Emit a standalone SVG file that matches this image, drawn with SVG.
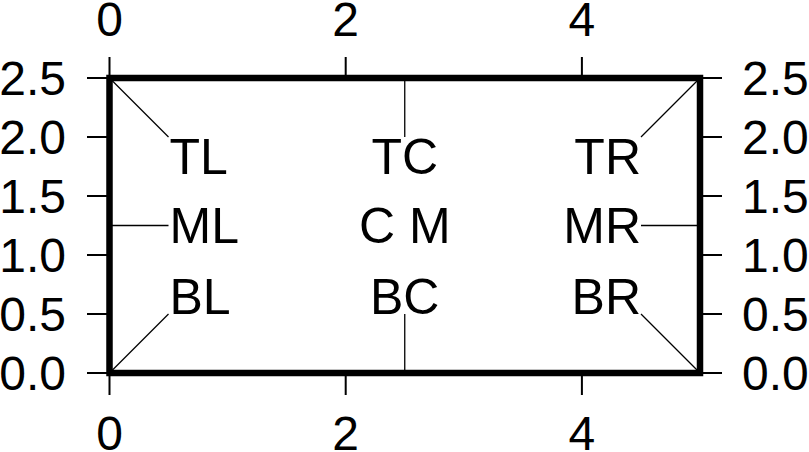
<svg xmlns="http://www.w3.org/2000/svg" width="809" height="452" viewBox="0 0 809 452">
<style>
text{font-family:"Liberation Sans",Arial,Helvetica,sans-serif;fill:#000}
.ann{font-size:48px}
.lab{font-size:50px}
.tick{stroke:#000;stroke-width:2;fill:none}
.lead{stroke:#000;stroke-width:1.3;fill:none}
.frame{stroke:#000;stroke-width:6.5;fill:none;stroke-linejoin:miter;stroke-linecap:square}
</style>
<rect x="0" y="0" width="809" height="452" fill="#fff"/>
<g id="ticks" class="tick">
<path d="M109.5 78V57M345.7 78V57M581.9 78V57"/>
<path d="M109.5 373V395M345.7 373V395M581.9 373V395"/>
<path d="M109.5 78H87M109.5 137H87M109.5 196H87M109.5 255H87M109.5 314H87M109.5 373H87"/>
<path d="M700 78H722M700 137H722M700 196H722M700 255H722M700 314H722M700 373H722"/>
</g>
<g id="tick-labels" class="ann">
<text x="109.5" y="36" text-anchor="middle">0</text>
<text x="345.7" y="36" text-anchor="middle">2</text>
<text x="581.9" y="36" text-anchor="middle">4</text>
<text x="109.5" y="449.5" text-anchor="middle">0</text>
<text x="345.7" y="449.5" text-anchor="middle">2</text>
<text x="581.9" y="449.5" text-anchor="middle">4</text>
<text x="66" y="95.2" text-anchor="end">2.5</text>
<text x="66" y="154.2" text-anchor="end">2.0</text>
<text x="66" y="213.2" text-anchor="end">1.5</text>
<text x="66" y="272.2" text-anchor="end">1.0</text>
<text x="66" y="331.2" text-anchor="end">0.5</text>
<text x="66" y="390.2" text-anchor="end">0.0</text>
<text x="742" y="95.2">2.5</text>
<text x="742" y="154.2">2.0</text>
<text x="742" y="213.2">1.5</text>
<text x="742" y="272.2">1.0</text>
<text x="742" y="331.2">0.5</text>
<text x="742" y="390.2">0.0</text>
</g>
<g id="connectors" class="lead">
<line x1="109.5" y1="78" x2="168.5" y2="137"/>
<line x1="404.75" y1="78" x2="404.75" y2="137"/>
<line x1="700" y1="78" x2="641" y2="137"/>
<line x1="109.5" y1="225.5" x2="168.5" y2="225.5"/>
<line x1="700" y1="225.5" x2="641" y2="225.5"/>
<line x1="109.5" y1="373" x2="168.5" y2="314"/>
<line x1="404.75" y1="373" x2="404.75" y2="314"/>
<line x1="700" y1="373" x2="641" y2="314"/>
</g>
<rect id="frame" class="frame" x="109.5" y="78" width="590.5" height="295"/>
<g id="TL" class="lab"><text x="169.5" y="173.5">TL</text></g>
<g id="TC" class="lab"><text x="404.75" y="173.5" text-anchor="middle">TC</text></g>
<g id="TR" class="lab"><text x="641" y="173.5" text-anchor="end">TR</text></g>
<g id="ML" class="lab"><text x="169.5" y="243.4">ML</text></g>
<g id="CM" class="lab"><text x="404.75" y="243.4" text-anchor="middle">C M</text></g>
<g id="MR" class="lab"><text x="641" y="243.4" text-anchor="end">MR</text></g>
<g id="BL" class="lab"><text x="169.5" y="314">BL</text></g>
<g id="BC" class="lab"><text x="404.75" y="314" text-anchor="middle">BC</text></g>
<g id="BR" class="lab"><text x="641" y="314" text-anchor="end">BR</text></g>
</svg>
